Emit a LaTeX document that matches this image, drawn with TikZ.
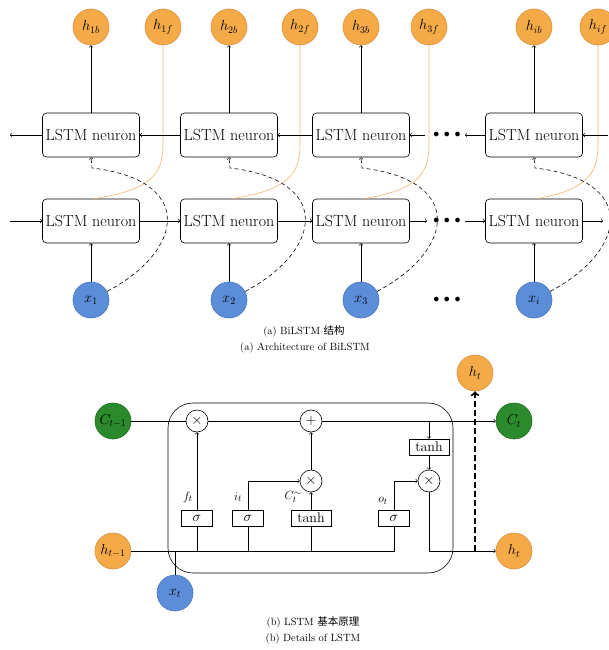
\documentclass[tikz,border=0pt]{standalone}
\usepackage{fontspec}
\newfontfamily\cjk{Noto Sans CJK SC}
\definecolor{orangefill}{HTML}{F5AA48}
\definecolor{orangeline}{HTML}{D9903A}
\definecolor{orangewire}{HTML}{F0B56A}
\definecolor{bluefill}{HTML}{5B8DD9}
\definecolor{blueline}{HTML}{4A76BE}
\definecolor{greenfill}{HTML}{2B8A2B}
\definecolor{greenline}{HTML}{1F6B1F}
\begin{document}
\begin{tikzpicture}[x=1pt, y=-1pt, line width=0.6pt,
  neuron/.style={draw, rounded corners=4pt, minimum width=97pt, minimum height=44pt, inner sep=0pt, font=\fontsize{16}{18}\selectfont},
  hnode/.style={circle, draw=orangeline, fill=orangefill, minimum size=36pt, inner sep=0pt, font=\fontsize{14}{16}\selectfont},
  xnode/.style={circle, draw=blueline, fill=bluefill, minimum size=36pt, inner sep=0pt, font=\fontsize{14}{16}\selectfont},
  cnode/.style={circle, draw=greenline, fill=greenfill, minimum size=36pt, inner sep=0pt, font=\fontsize{14}{16}\selectfont},
  gate/.style={draw, minimum width=31pt, minimum height=16pt, inner sep=0pt, font=\fontsize{14}{16}\selectfont},
  op/.style={circle, draw, minimum size=22pt, inner sep=0pt, font=\fontsize{14}{16}\selectfont},
  dots/.style={font=\fontsize{12}{14}\selectfont}]
\useasboundingbox (0,0) rectangle (608,650);
% (a) BiLSTM
\foreach \x/\f/\n/\s in {91/163/1/1, 229/300/2/2, 361/429/3/3, 534/598/4/i} {
  \node[neuron] (u\n) at (\x,135) {LSTM neuron};
  \node[neuron] (l\n) at (\x,221) {LSTM neuron};
  \node[hnode] (hb\n) at (\x,27) {$h_{\s b}$};
  \node[hnode] (hf\n) at (\f,27) {$h_{\s f}$};
  \node[xnode] (x\n) at (\x,300) {$x_{\s}$};
  \draw[->] (u\n) -- (hb\n);
  \draw[->] (x\n) -- (l\n);
  \draw[orangewire] ([xshift=3pt]l\n.north) .. controls (\f-13,190) and (\f,175) .. (\f,145) -- (hf\n);
  \draw[dash pattern=on 4pt off 3pt, ->] (x\n) .. controls (\x+94,250) and (\x+104,180) .. (\x+1,168) -- (u\n.south);
}
\node[dots] (dotu) at (447,135) {$\bullet\,\bullet\,\bullet$};
\node[dots] (dotl) at (447,221) {$\bullet\,\bullet\,\bullet$};
\node[dots] (dotx) at (447,300) {$\bullet\,\bullet\,\bullet$};
\coordinate (ul) at (10,135);
\coordinate (ll) at (10,221);
\coordinate (ur) at (608,135);
\coordinate (lr) at (603,221);
\draw[->] (u1) -- (ul);
\draw[->] (u2) -- (u1);
\draw[->] (u3) -- (u2);
\draw[->] (u3.east) ++(15,0) -- (u3);
\draw[->] (u4) -- (465,135);
\draw[->] (ur) -- (u4);
\draw[->] (ll) -- (l1);
\draw[->] (l1) -- (l2);
\draw[->] (l2) -- (l3);
\draw[->] (l3) -- (427,221);
\draw[->] (465,221) -- (l4);
\draw[->] (l4) -- (lr);
\node[font=\fontsize{10.5}{12}\selectfont] (capa1) at (304,331) {(a) BiLSTM {\cjk 结构}};
\node[font=\fontsize{10.5}{12}\selectfont] (capa2) at (305,348) {(a) Architecture of BiLSTM};
% (b) LSTM cell
\node[draw, rounded corners=25pt, minimum width=285pt, minimum height=170pt] (cell) at (310.5,488) {};
\node[cnode] (ct0) at (113,421) {$C_{t-1}$};
\node[hnode] (ht0) at (113,551) {$h_{t-1}$};
\node[xnode] (xt) at (175,593) {$x_t$};
\node[cnode] (ct) at (514,421) {$C_t$};
\node[hnode] (ht) at (514,551) {$h_t$};
\node[hnode] (htop) at (475,373) {$h_t$};
\node[op] (mf) at (197,421) {$\times$};
\node[op] (add) at (311,421) {$+$};
\node[op] (mi) at (311,481) {$\times$};
\node[op] (mo) at (429,481) {$\times$};
\node[gate] (sf) at (197,518) {$\sigma$};
\node[gate] (si) at (248,518) {$\sigma$};
\node[gate, minimum width=40pt] (tc) at (311,518) {tanh};
\node[gate] (so) at (394,518) {$\sigma$};
\node[gate, minimum width=40pt] (th) at (429,447) {tanh};
\node[font=\fontsize{13}{15}\selectfont] (lf) at (188,497) {$f_t$};
\node[font=\fontsize{13}{15}\selectfont] (li) at (238,497) {$i_t$};
\node[font=\fontsize{13}{15}\selectfont] (lc) at (293,497) {$C_t^{\sim}$};
\node[font=\fontsize{13}{15}\selectfont] (lo) at (383,501) {$o_t$};
\coordinate (tap) at (429,421);
\coordinate (split) at (475,551);
\draw (ct0) -- (mf);
\draw (mf) -- (add);
\draw[->] (add) -- (ct);
\draw[->] (tap) -- (th);
\draw[->] (th) -- (mo);
\draw[->] (mo) -- (mo |- ht) -- (ht);
\draw (ht0) -- (so |- ht0) -- (so);
\draw (sf) -- (sf |- ht0);
\draw (si) -- (si |- ht0);
\draw (tc) -- (tc |- ht0);
\draw (xt) -- (xt |- ht0);
\draw[->] (sf) -- (mf);
\draw[->] (si) |- (mi);
\draw[->] (tc) -- (mi);
\draw[->] (mi) -- (add);
\draw[->] (so) |- (mo);
\draw[dash pattern=on 6pt off 3pt, line width=2pt, ->] (split) -- (htop);
\node[font=\fontsize{10.5}{12}\selectfont] (capb1) at (313,622) {(b) LSTM {\cjk 基本原理}};
\node[font=\fontsize{10.5}{12}\selectfont] (capb2) at (313,639) {(b) Details of LSTM};
\end{tikzpicture}
\end{document}
